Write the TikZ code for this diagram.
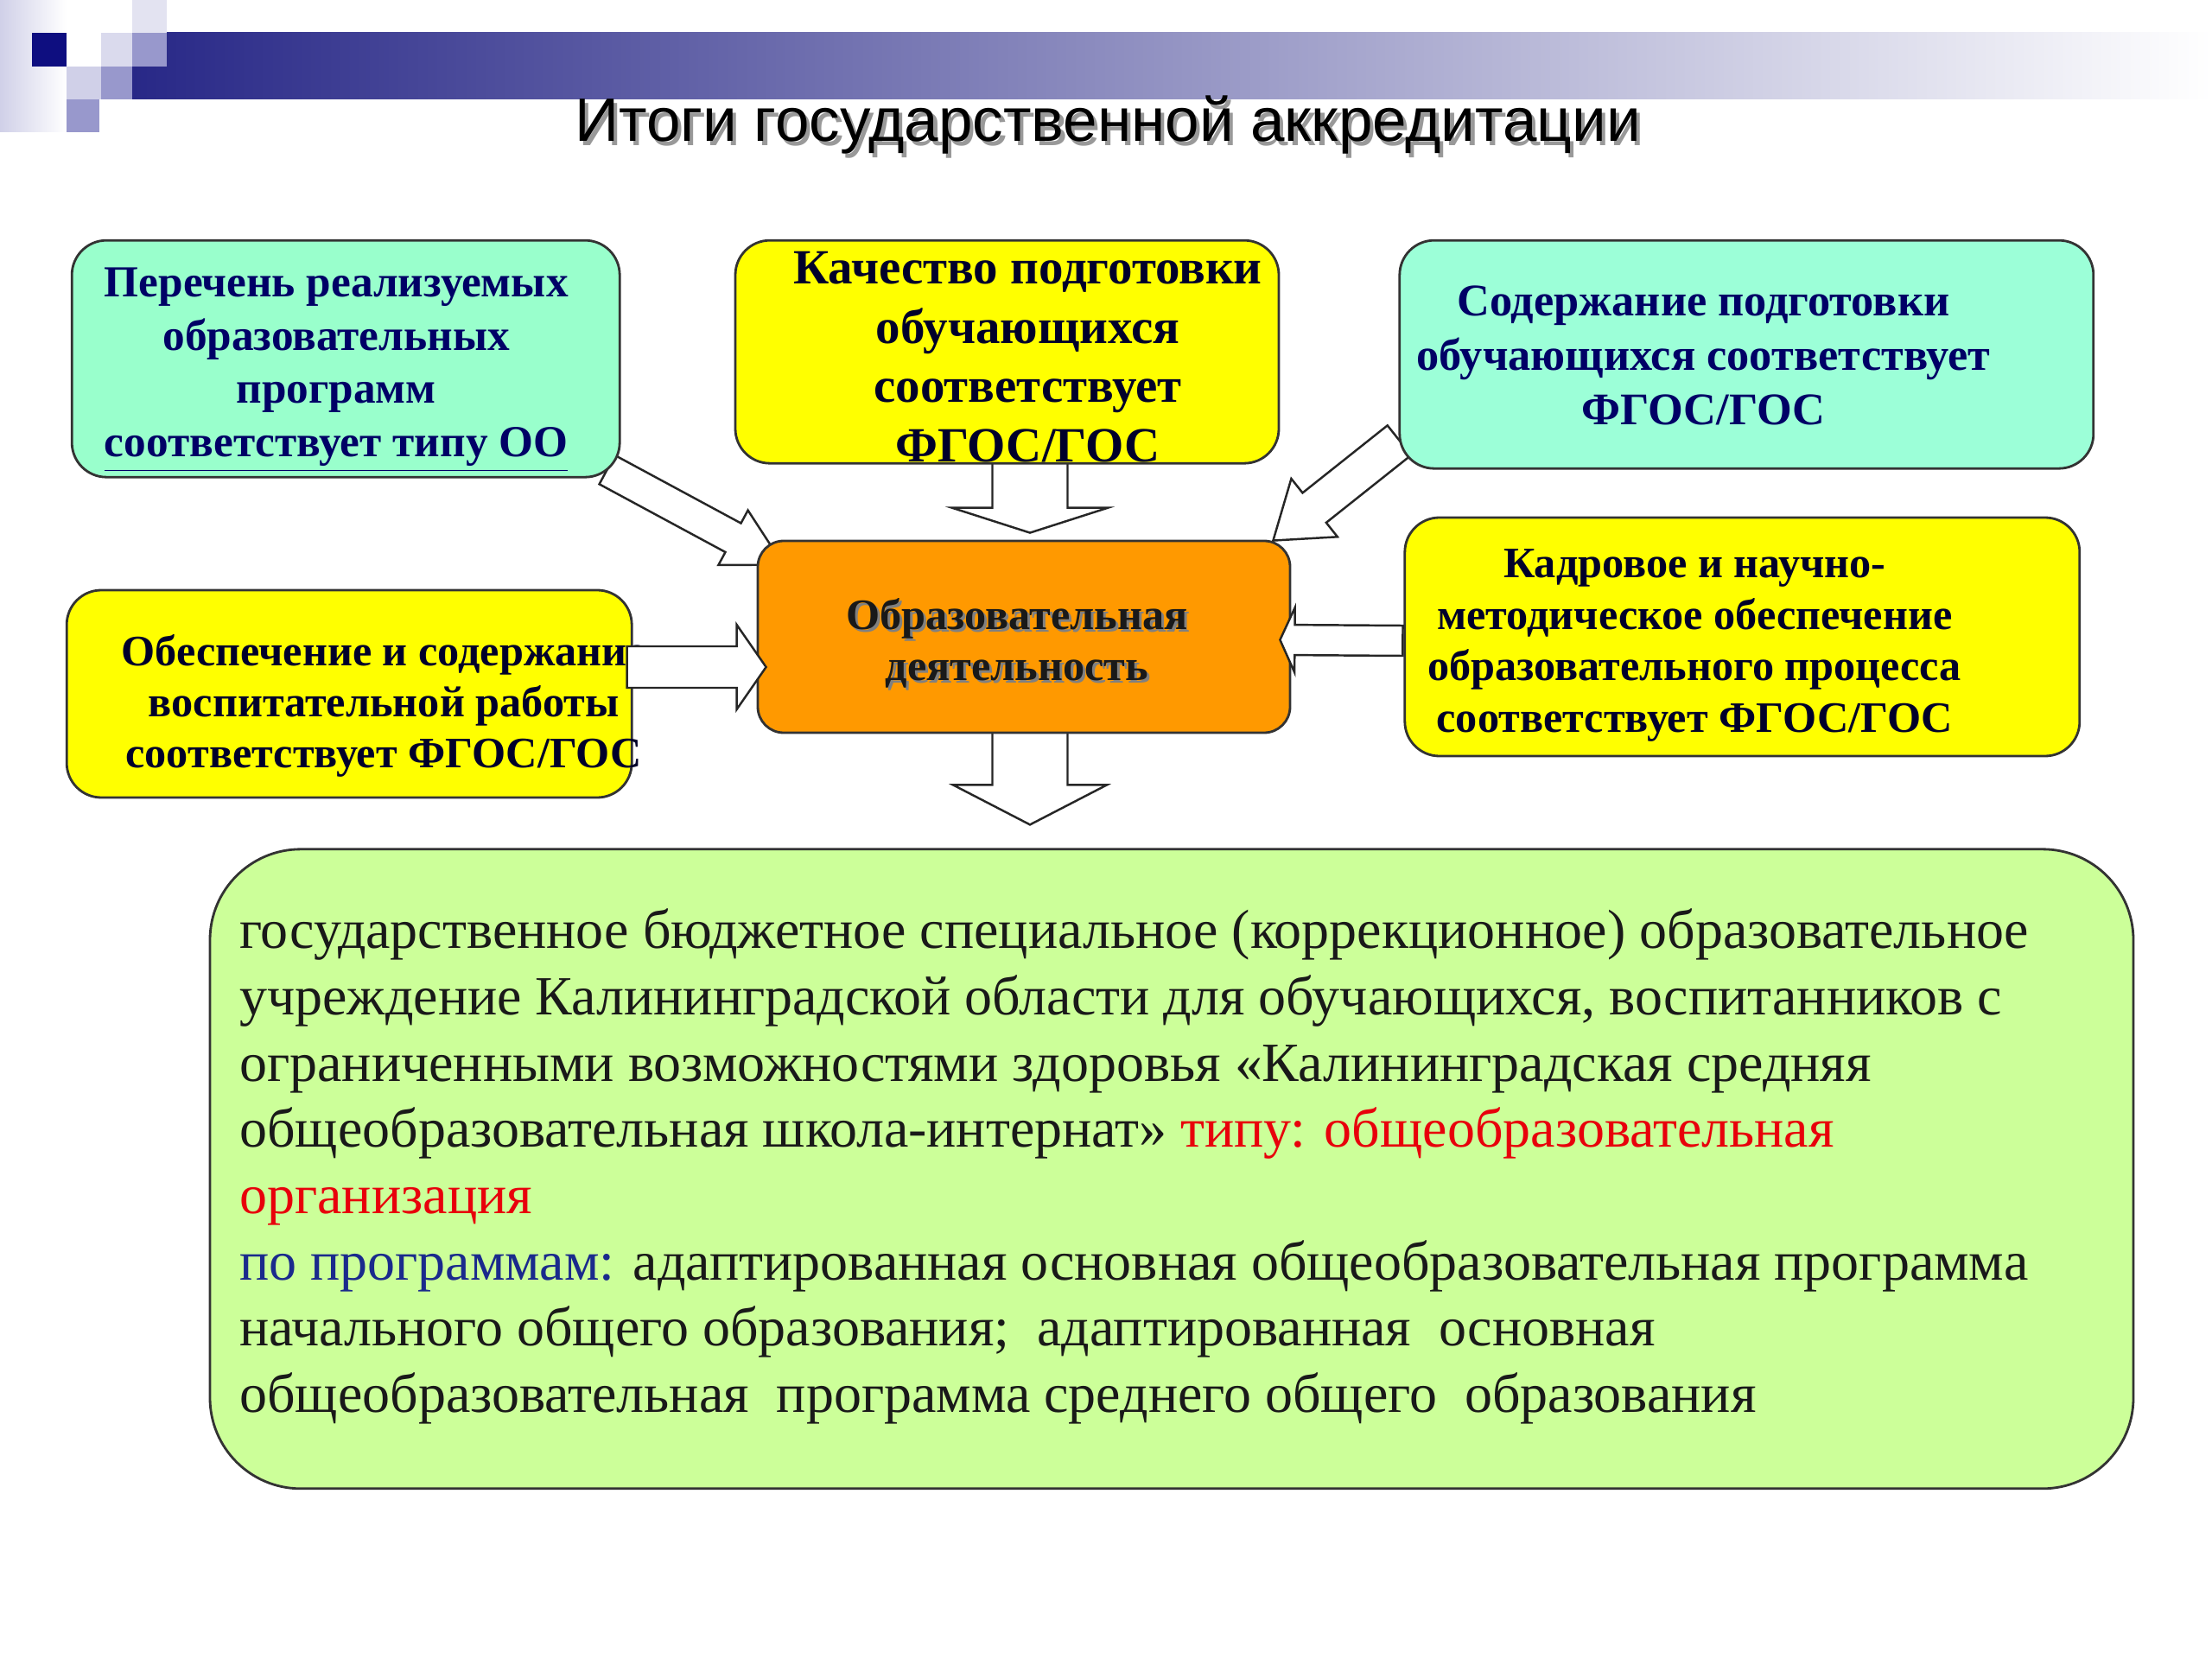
\documentclass[tikz,border=0pt]{standalone}
\usepackage{fontspec}
\setmainfont{Liberation Serif}
\setsansfont{Liberation Sans}
\usetikzlibrary{positioning,calc,backgrounds}

\definecolor{barnavy}{RGB}{40,40,135}
\definecolor{navysq}{RGB}{14,14,128}
\definecolor{lavlight}{RGB}{208,208,232}
\definecolor{lavmid}{RGB}{152,152,204}
\definecolor{mintbox}{HTML}{99FFCC}
\definecolor{aquabox}{HTML}{9CFFD8}
\definecolor{yellowbox}{HTML}{FFFF00}
\definecolor{orangebox}{HTML}{FF9900}
\definecolor{greenbox}{HTML}{CCFF99}
\definecolor{navytext}{HTML}{000066}
\definecolor{darktext}{HTML}{00002A}
\definecolor{redtext}{HTML}{E8000B}
\definecolor{bluetext}{HTML}{1A2A8C}

% text with a soft drop shadow
\newcommand{\shadowed}[2][black!35]{\leavevmode\rlap{\kern0.06em\raisebox{-0.06em}{\textcolor{#1}{#2}}}#2}

% block arrow: from, to, shaft half width, head half width, head length
\newcommand{\fatarrow}[5]{%
  \coordinate (hb) at ($(#2)!#5!(#1)$);
  \draw[fat arrow] ($(#1)!#3!90:(#2)$) -- ($(hb)!#3!90:(#2)$) -- ($(hb)!#4!90:(#2)$) -- (#2)
    -- ($(hb)!#4!-90:(#2)$) -- ($(hb)!#3!-90:(#2)$) -- ($(#1)!#3!-90:(#2)$) -- cycle;
}

\begin{document}
\begin{tikzpicture}[
    box/.style={draw=black!80, line width=0.8pt, rounded corners=0.4cm, inner sep=0pt},
    boxtext/.style={align=center, inner sep=0pt, font=\bfseries},
    fat arrow/.style={draw=black!85, line width=0.7pt, fill=white, line join=miter},
  ]
  \useasboundingbox (0,0) rectangle (25.6,-19.2);

  % header strip
  \shade[left color=lavlight, right color=white] (0,0) rectangle (0.77,-1.53);
  \shade[left color=barnavy, right color=white] (1.53,-0.38) rectangle (25.6,-1.15);
  \fill[navysq] (0.37,-0.38) rectangle (0.77,-0.77);
  \fill[lavlight!80] (1.17,-0.38) rectangle (1.53,-0.77);
  \fill[lavlight!60] (1.53,0) rectangle (1.93,-0.38);
  \fill[lavmid] (1.53,-0.38) rectangle (1.93,-0.77);
  \fill[lavlight] (0.77,-0.77) rectangle (1.17,-1.15);
  \fill[lavmid] (1.17,-0.77) rectangle (1.53,-1.15);
  \fill[lavmid] (0.77,-1.15) rectangle (1.15,-1.53);

  \node[font=\sffamily\fontsize{20.2}{24}\selectfont] (title) at (12.82,-1.47) {\shadowed[black!40]{Итоги государственной аккредитации}};

  % boxes
  \node[box, fill=orangebox, rounded corners=0.3cm, minimum width=6.16cm, minimum height=2.22cm] (core) at (11.85,-7.37) {};
  \node[box, fill=yellowbox, minimum width=6.29cm, minimum height=2.58cm, above=0.87cm of core, xshift=-0.195cm] (quality) {};
  \node[box, fill=mintbox, minimum width=6.34cm, minimum height=2.74cm, left=1.31cm of quality, yshift=-0.08cm] (list) {};
  \node[box, fill=aquabox, minimum width=8.03cm, minimum height=2.64cm, right=1.37cm of quality, yshift=-0.03cm] (content) {};
  \node[box, fill=yellowbox, minimum width=6.54cm, minimum height=2.40cm, left=1.43cm of core, yshift=-0.66cm] (upbringing) {};
  \node[box, fill=yellowbox, minimum width=7.81cm, minimum height=2.76cm, right=1.30cm of core] (staff) {};
  \node[box, fill=greenbox, rounded corners=1.05cm, minimum width=22.26cm, minimum height=7.40cm, below=1.32cm of core, xshift=1.71cm] (result) {};

  % box texts
  \node[boxtext, text=navytext, font=\bfseries\fontsize{14.6}{17.6}\selectfont] (list-t) at ($(list)+(-0.11,-0.13)$)
    {Перечень реализуемых\\образовательных\\программ\\\underline{соответствует типу ОО}};
  \node[boxtext, text=darktext, font=\bfseries\fontsize{16.2}{19.6}\selectfont] (quality-t) at ($(quality)+(0.24,-0.06)$)
    {Качество подготовки\\обучающихся\\соответствует\\ФГОС/ГОС};
  \node[boxtext, text=navytext, font=\bfseries\fontsize{14.9}{17.9}\selectfont] (content-t) at ($(content)+(-0.50,-0.01)$)
    {Содержание подготовки\\обучающихся соответствует\\ФГОС/ГОС};
  \node[boxtext, text=darktext, font=\bfseries\fontsize{14.3}{16.9}\selectfont] (upbringing-t) at ($(upbringing)+(0.40,-0.14)$)
    {Обеспечение и содержание\\воспитательной работы\\соответствует ФГОС/ГОС};
  \node[boxtext, text=darktext, font=\bfseries\fontsize{14.3}{16.9}\selectfont] (staff-t) at ($(staff)+(-0.55,-0.10)$)
    {Кадровое и научно-\\методическое обеспечение\\образовательного процесса\\соответствует ФГОС/ГОС};
  \node[boxtext, text=black!90, font=\bfseries\fontsize{14.3}{16.8}\selectfont] (core-t) at ($(core)+(-0.08,-0.09)$)
    {\shadowed[black!50]{Образовательная}\\\shadowed[black!50]{деятельность}};
  \node[anchor=north west, align=left, inner sep=0pt, text=black!90, font=\fontsize{18.2}{21.8}\selectfont] (result-t) at ($(result.north west)+(0.35,-0.70)$)
    {государственное бюджетное специальное (коррекционное) образовательное\\
     учреждение Калининградской области для обучающихся, воспитанников с\\
     ограниченными возможностями здоровья «Калининградская средняя\\
     общеобразовательная школа-интернат» \textcolor{redtext}{типу: общеобразовательная}\\
     \textcolor{redtext}{организация}\\
     \textcolor{bluetext}{по программам:} адаптированная основная общеобразовательная программа\\
     начального общего образования;~ адаптированная~ основная\\
     общеобразовательная~ программа среднего общего~ образования};

  % arrow ends
  \coordinate (a-from) at ($(list.south east)+(-0.16,0.10)$);
  \coordinate (a-to) at ($(core.north west)+(0.31,-0.29)$);
  \coordinate (b-from) at ($(content.south west)+(0.01,0.34)$);
  \coordinate (b-to) at ($(core.north east)+(-0.21,-0.01)$);
  \coordinate (c-from) at ($(quality.south)+(0.265,0.02)$);
  \coordinate (c-to) at ($(quality.south)+(0.265,-0.79)$);
  \coordinate (d-from) at ($(core.south)+(0.07,0.02)$);
  \coordinate (d-to) at ($(core.south)+(0.07,-1.05)$);
  \coordinate (e-from) at ($(upbringing.east)+(-0.07,0.31)$);
  \coordinate (e-to) at ($(core.west)+(0.11,-0.35)$);
  \coordinate (f-from) at ($(staff.west)+(-0.01,-0.045)$);
  \coordinate (f-to) at ($(core.east)+(-0.13,-0.035)$);

  \begin{scope}[on background layer]
    \fatarrow{a-from}{a-to}{0.19cm}{0.36cm}{0.66cm}
    \fatarrow{b-from}{b-to}{0.22cm}{0.43cm}{0.61cm}
    \fatarrow{c-from}{c-to}{0.435cm}{0.905cm}{0.29cm}
    \fatarrow{d-from}{d-to}{0.435cm}{0.89cm}{0.46cm}
  \end{scope}
  \fatarrow{e-from}{e-to}{0.24cm}{0.49cm}{0.34cm}
  \fatarrow{f-from}{f-to}{0.175cm}{0.375cm}{0.17cm}
\end{tikzpicture}
\end{document}
